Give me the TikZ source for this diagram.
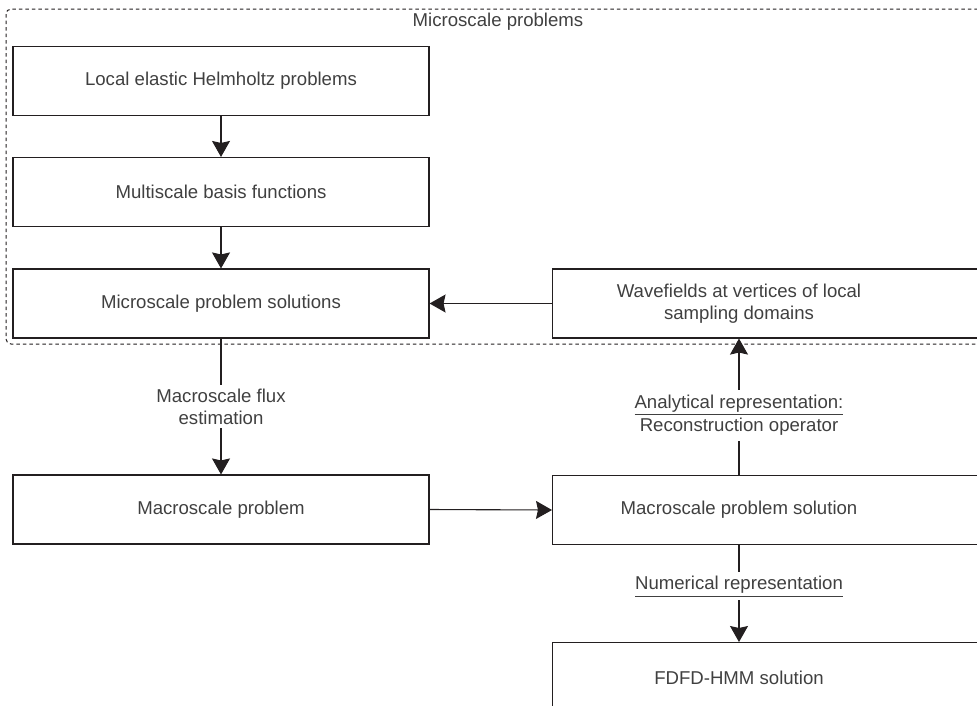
\documentclass[tikz,border=0pt]{standalone}
\usepackage{fontspec}
\setmainfont{Liberation Sans}
\usetikzlibrary{arrows.meta}
\definecolor{inkline}{HTML}{231F20}
\definecolor{inktext}{HTML}{404040}
\tikzset{
  procbox/.style={draw=inkline, line width=1.1pt, minimum width=416pt, minimum height=69pt, inner sep=0pt},
  widebox/.style={draw=inkline, line width=1.1pt, minimum width=440pt, minimum height=#1, inner sep=0pt},
  widebox/.default=69pt,
  flow/.style={draw=inkline, line width=1.1pt, -{Stealth[length=16pt,width=18pt,inset=2pt]}},
  gaplabel/.style={fill=white, text=inktext, align=center, inner sep=0pt}
}
\begin{document}
\begin{tikzpicture}[x=1pt, y=-1pt, font=\fontsize{18.6}{22}\selectfont, text=inktext]
      \useasboundingbox (0,0) rectangle (977,705);
      \clip (0,0) rectangle (977,705);
      \draw[inkline, line width=1pt, dash pattern=on 3.5pt off 3pt, rounded corners=5pt]
        (6,9) rectangle (995,344);
      \node (title) at (498,22) {Microscale problems};
      \node[procbox] (1) at (221,81) {Local elastic Helmholtz problems};
      \node[procbox] (2) at (221,192) {Multiscale basis functions};
      \node[procbox] (3) at (221,303.5) {Microscale problem solutions};
      \node[procbox] (4) at (221,509.5) {Macroscale problem};
      \node[widebox, anchor=west, align=center] (5) at (552,303.5) {};
      \node[text=inktext, align=center] (5t) at (739,303.5) {Wavefields at vertices of local\\sampling domains};
      \node[widebox, anchor=west] (6) at (552,510) {};
      \node[text=inktext] (6t) at (739,510) {Macroscale problem solution};
      \node[widebox=72pt, anchor=north west] (7) at (552,642) {};
      \node[text=inktext] (7t) at (739,678) {FDFD-HMM solution};
      \begin{scope}[flow]
        \draw (1) to (2);
        \draw (2) to (3);
        \draw (3) to node[gaplabel, inner ysep=4pt] {Macroscale flux\\estimation} (4);
        \draw (4.east) to (6.west);
        \draw (5.west) to (3.east);
        \draw (6.north -| 6t) to node[gaplabel, inner ysep=3pt, yshift=-9pt] {\setlength{\arrayrulewidth}{1pt}\setlength{\tabcolsep}{0pt}\begin{tabular}{c}Analytical representation:\\[-1pt]\hline\rule{0pt}{16pt}Reconstruction operator\end{tabular}} (5.south -| 5t);
        \draw (6.south -| 6t) to node[gaplabel, inner ysep=3pt, yshift=8pt] {\setlength{\arrayrulewidth}{1pt}\setlength{\tabcolsep}{0pt}\begin{tabular}{c}Numerical representation\\[-1pt]\hline\end{tabular}} (7.north -| 7t);
      \end{scope}
    \end{tikzpicture}
\end{document}
